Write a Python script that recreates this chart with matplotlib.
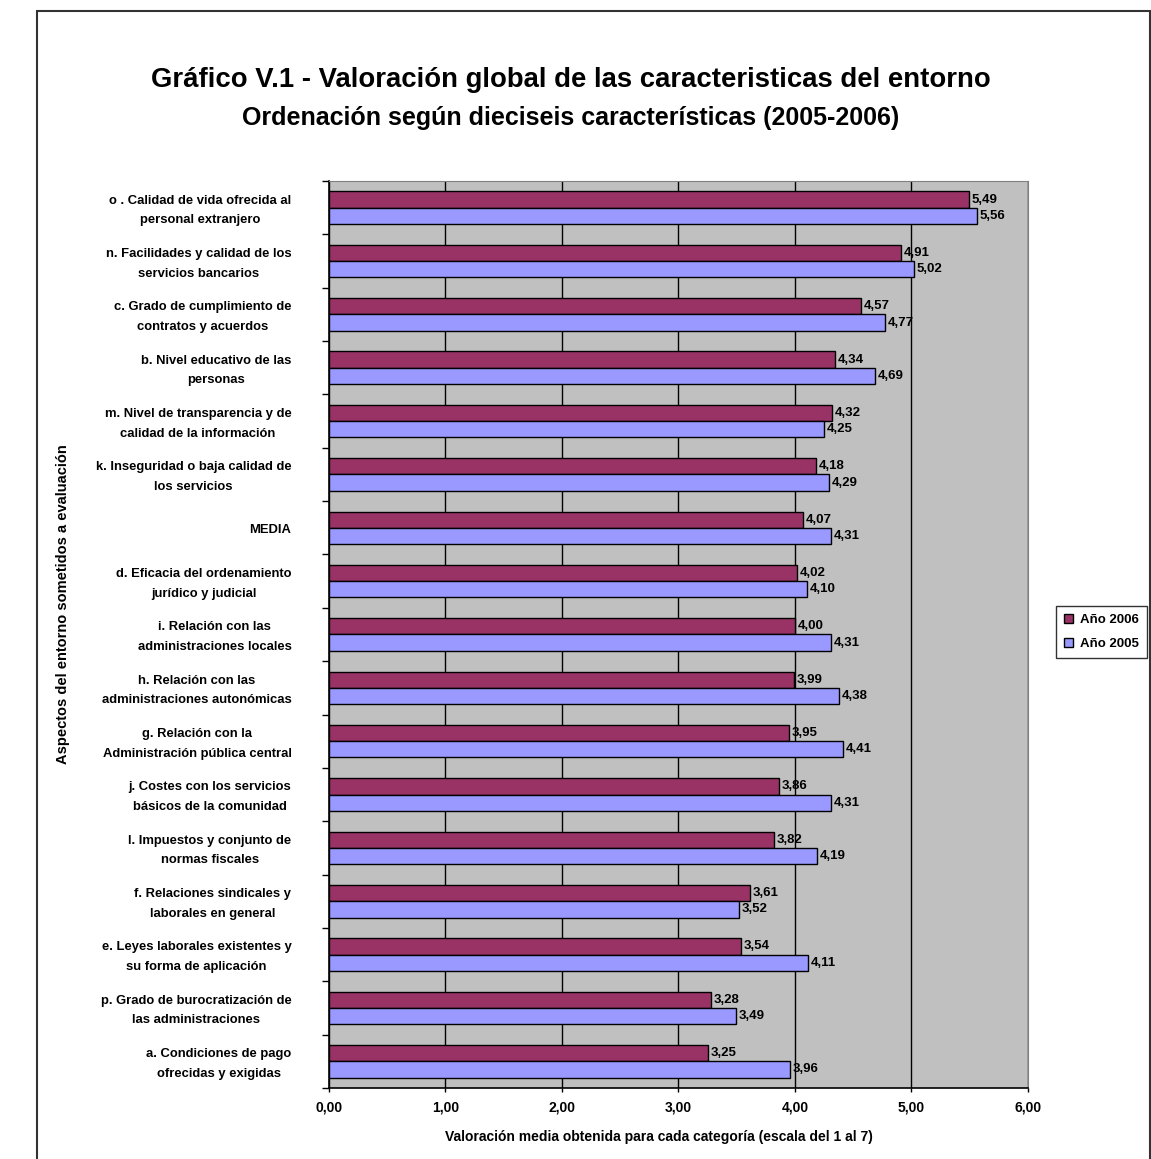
import numpy as np
import matplotlib
matplotlib.use("Agg")
import matplotlib.pyplot as plt
from matplotlib.patches import Rectangle

plt.rcParams['font.family'] = ['Liberation Sans', 'DejaVu Sans']
plt.rcParams['font.weight'] = 'bold'

# categories listed top to bottom
categories = [
    "o . Calidad de vida ofrecida al\npersonal extranjero",
    "n. Facilidades y calidad de los\nservicios bancarios",
    "c. Grado de cumplimiento de\ncontratos y acuerdos",
    "b. Nivel educativo de las\npersonas",
    "m. Nivel de transparencia y de\ncalidad de la información",
    "k. Inseguridad o baja calidad de\nlos servicios",
    "MEDIA",
    "d. Eficacia del ordenamiento\njurídico y judicial",
    "i. Relación con las\nadministraciones locales",
    "h. Relación con las\nadministraciones autonómicas",
    "g. Relación con la\nAdministración pública central",
    "j. Costes con los servicios\nbásicos de la comunidad",
    "l. Impuestos y conjunto de\nnormas fiscales",
    "f. Relaciones sindicales y\nlaborales en general",
    "e. Leyes laborales existentes y\nsu forma de aplicación",
    "p. Grado de burocratización de\nlas administraciones",
    "a. Condiciones de pago\nofrecidas y exigidas",
]
valores_2006 = [5.49, 4.91, 4.57, 4.34, 4.32, 4.18, 4.07, 4.02, 4.00, 3.99,
                3.95, 3.86, 3.82, 3.61, 3.54, 3.28, 3.25]
valores_2005 = [5.56, 5.02, 4.77, 4.69, 4.25, 4.29, 4.31, 4.10, 4.31, 4.38,
                4.41, 4.31, 4.19, 3.52, 4.11, 3.49, 3.96]
xticks = [0, 1, 2, 3, 4, 5, 6]


def coma(v):
    return f"{v:.2f}".replace('.', ',')


fig = plt.figure(figsize=(11.51, 11.59), dpi=100)
ax = fig.add_axes([0.2858, 0.0613, 0.6073, 0.7825])

n = len(categories)
pos = np.arange(n)
h = 0.305

ax.set_facecolor('#C0C0C0')
b06 = ax.barh(pos - h / 2, valores_2006, height=h, color='#993366',
              edgecolor='black', linewidth=1, label='Año 2006', zorder=3)
b05 = ax.barh(pos + h / 2, valores_2005, height=h, color='#9999FF',
              edgecolor='black', linewidth=1, label='Año 2005', zorder=3)

for bars, vals in ((b06, valores_2006), (b05, valores_2005)):
    for bar, v in zip(bars, vals):
        ax.annotate(coma(v), xy=(v, bar.get_y() + bar.get_height() / 2),
                    xytext=(2, 0), textcoords='offset points',
                    ha='left', va='center', fontsize=9.5, fontweight='bold')

ax.set_xlim(0, 6)
ax.set_ylim(n - 0.5, -0.5)
ax.set_xticks(xticks)
ax.set_xticklabels([coma(t) for t in xticks], fontsize=10, fontweight='bold')
ax.xaxis.grid(True, color='black', linewidth=1, zorder=0)
ax.set_axisbelow(True)
ax.tick_params(axis='x', length=3, width=1, pad=6)

# category labels, ticks at the category boundaries
ax.set_yticks(np.arange(n + 1) - 0.5)
ax.set_yticklabels([])
ax.tick_params(axis='y', length=5, width=1)
for i, lab in enumerate(categories):
    ax.annotate(lab, xy=(0, i + 0.05), xycoords=ax.get_yaxis_transform(),
                xytext=(-27, 0), textcoords='offset points',
                ha='right', va='center', multialignment='center',
                fontsize=9.4, fontweight='bold', linespacing=1.85)

for s in ('top', 'right'):
    ax.spines[s].set_color('#808080')
for s in ('left', 'bottom'):
    ax.spines[s].set_color('black')
    ax.spines[s].set_linewidth(1.2)

fig.text(659 / 1151, 1 - 1137 / 1159,
         'Valoración media obtenida para cada categoría (escala del 1 al 7)',
         ha='center', va='center', fontsize=10, fontweight='bold')

fig.text(0.0547, 0.479, 'Aspectos del entorno sometidos a evaluación',
         rotation=90, ha='center', va='center', fontsize=10.5, fontweight='bold')

fig.text(0.496, 1 - 80 / 1159,
         'Gráfico V.1 - Valoración global de las caracteristicas del entorno',
         ha='center', va='center', fontsize=19.8, fontweight='bold')
fig.text(0.496, 1 - 118 / 1159,
         'Ordenación según dieciseis características (2005-2006)',
         ha='center', va='center', fontsize=18, fontweight='bold')

leg = fig.legend(handles=[b06, b05], loc='center', bbox_to_anchor=(0.957, 0.4547),
                 fontsize=9.5, frameon=True, fancybox=False, handlelength=0.7,
                 handleheight=0.7, handletextpad=0.5, borderpad=0.6,
                 labelspacing=0.9)
leg.get_frame().set_edgecolor('black')
leg.get_frame().set_linewidth(1)

# outer frame of the chart
fig.patches.append(Rectangle((37 / 1151, -0.05), 1113 / 1151, 1.05 - 11 / 1159,
                             transform=fig.transFigure, fill=False,
                             edgecolor='#333333', linewidth=1.5, clip_on=False))

fig.savefig('out.png', dpi=100, facecolor='white')
